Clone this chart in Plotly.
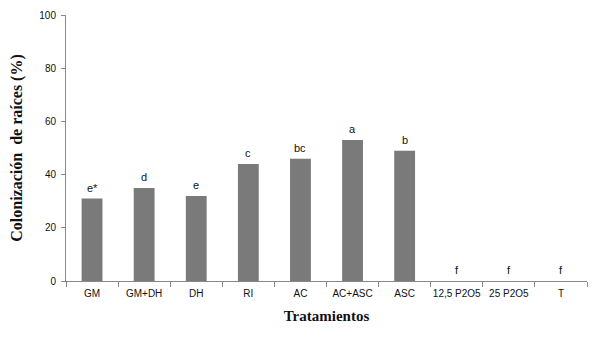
import plotly.graph_objects as go

categories = ["GM", "GM+DH", "DH", "RI", "AC", "AC+ASC", "ASC", "12,5 P2O5", "25 P2O5", "T"]
values = [31, 35, 32, 44, 46, 53, 49, 0, 0, 0]
letters = ["e*", "d", "e", "c", "bc", "a", "b", "f", "f", "f"]
y_ticks = [0, 20, 40, 60, 80, 100]

fig = go.Figure()
fig.add_trace(go.Bar(x=categories, y=values, marker=dict(color="#7a7a7a", line=dict(width=0)),
                     width=0.4))
for c, v, t in zip(categories, values, letters):
    fig.add_annotation(x=c, y=v, text=t, showarrow=False, yanchor="bottom", yshift=3,
                       font=dict(family="Liberation Sans, Arial", size=11, color="#111"))

fig.update_layout(
    width=586, height=322, margin=dict(l=58, r=7, t=7, b=49, autoexpand=False),
    paper_bgcolor="white", plot_bgcolor="white", showlegend=False,
    font=dict(family="Liberation Sans, Arial", size=10, color="#111"),
)
fig.update_xaxes(showline=True, linecolor="#888", linewidth=1, ticks="outside", tickson="boundaries",
                 ticklen=5, tickcolor="#888", showgrid=False, tickangle=0, automargin=True,
                 ticklabelstandoff=3,
                 title=dict(text="<b>Tratamientos</b>", font=dict(family="Liberation Serif, Times New Roman", size=15, color="#111"), standoff=12))
fig.update_yaxes(range=[0, 100], tickvals=y_ticks, showline=True, linecolor="#888", linewidth=1,
                 ticks="outside", ticklen=4, tickcolor="#888", showgrid=False, zeroline=False, automargin=True,
                 ticklabelstandoff=3,
                 title=dict(text="<b>Colonización  de raíces (%)</b>", font=dict(family="Liberation Serif, Times New Roman", size=16, color="#111"), standoff=14))
fig.write_html("out.html")
